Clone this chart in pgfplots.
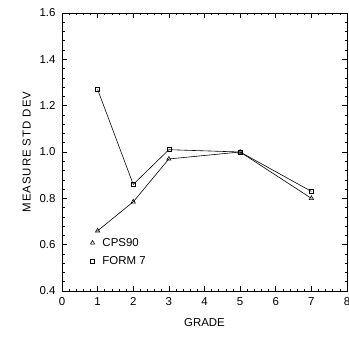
\documentclass[border=0pt]{standalone}
\usepackage{fontspec}
\setmainfont{Liberation Sans}
\newfontfamily\widefont[LetterSpace=8]{Liberation Sans}
\usepackage{pgfplots}
\pgfplotsset{compat=1.18}
\pgfplotsset{mlegend/.style={legend image code/.code={\path (0cm,0cm) (0.42cm,0cm); \draw[##1] plot coordinates {(0.15cm,0cm)};}}}
\begin{document}
\begin{tikzpicture}
\begin{axis}[
  scale only axis,
  width=285bp, height=278bp,
  xmin=0, xmax=8, ymin=0.4, ymax=1.6,
  xtick={0,1,...,8},
  ytick={0.4,0.6,...,1.6},
  minor x tick num=4,
  minor y tick num=4,
  tick align=inside,
  tick pos=both,
  major tick length=5bp,
  minor tick length=2.5bp,
  every tick/.style={black, line width=0.6pt},
  axis line style={line width=0.8pt},
  /pgf/number format/assume math mode=true,
  /pgf/number format/fixed,
  /pgf/number format/fixed zerofill,
  /pgf/number format/precision=1,
  xticklabel={\pgfmathprintnumber[precision=0,fixed zerofill=false]{\tick}},
  tick label style={font=\fontsize{11.5}{13}\selectfont},
  xticklabel style={yshift=-3bp},
  yticklabel style={xshift=-3bp},
  xlabel={GRADE},
  ylabel={\widefont MEASURE STD DEV},
  label style={font=\fontsize{11.5}{13}\selectfont},
  xlabel style={yshift=-6bp},
  ylabel style={yshift=2bp},
  legend style={at={(0.08,0.205)}, anchor=north west, draw=none, fill=none,
    font=\fontsize{11.5}{13}\selectfont, row sep=5bp},
  legend cell align=left,
]
\addplot[black, line width=0.6pt, mark=triangle, mark size=2.5pt, mark options={solid, line width=0.6pt}, mlegend]
  coordinates {(1,0.66) (2,0.785) (3,0.97) (5,1.0) (7,0.80)};
\addlegendentry{CPS90}
\addplot[black, line width=0.6pt, mark=square, mark size=2pt, mark options={solid, line width=0.6pt}, mlegend]
  coordinates {(1,1.27) (2,0.86) (3,1.01) (5,1.0) (7,0.83)};
\addlegendentry{FORM 7}
\end{axis}
\pgfresetboundingbox
\useasboundingbox ([shift={(-62bp,-46bp)}]current axis.south west) rectangle ([shift={(2bp,13bp)}]current axis.north east);
\end{tikzpicture}
\end{document}
